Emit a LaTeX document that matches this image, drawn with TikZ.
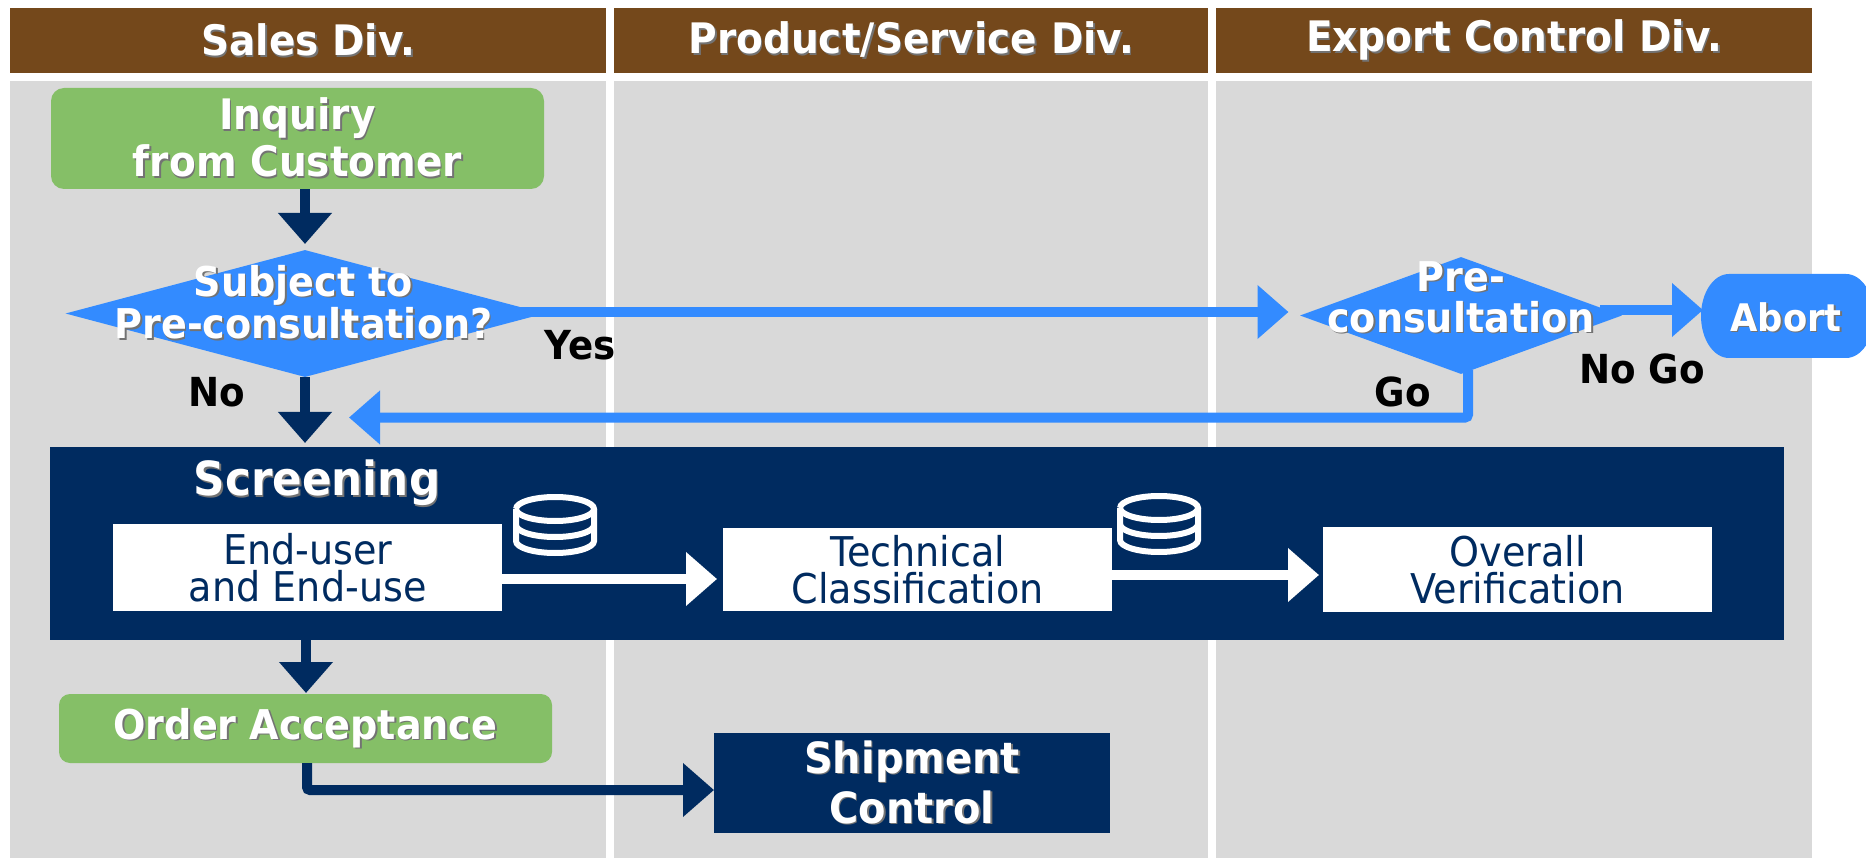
\documentclass[tikz,border=0pt]{standalone}
\usepackage{fontspec}
\setmainfont{DejaVu Sans}[FakeStretch=0.93]
\usetikzlibrary{arrows.meta,shapes.geometric}
\definecolor{brownh}{HTML}{74481B}
\definecolor{lanec}{HTML}{D9D9D9}
\definecolor{navyc}{HTML}{002B60}
\definecolor{bluec}{HTML}{338BFF}
\definecolor{greenc}{HTML}{85BF67}
\colorlet{shadowc}{black!55}
\newcommand\sdw[1]{\leavevmode\rlap{\kern1.6pt\raisebox{-1.6pt}{\color{shadowc}#1}}#1}
\newcommand\fs[1]{\fontsize{#1}{#1}\selectfont}
\tikzset{
  lane/.style={fill=lanec,anchor=north west,inner sep=0,minimum width=#1,minimum height=777pt},
  header/.style={fill=brownh,anchor=north west,inner sep=0,minimum width=#1,minimum height=65pt,text=white,font=\fs{42}\bfseries},
  greenbox/.style={fill=greenc,rounded corners=13pt,inner sep=0,text=white,align=center,font=\bfseries},
  navybox/.style={fill=navyc,inner sep=0,text=white,align=center,font=\bfseries},
  whitebox/.style={fill=white,inner sep=0,text=navyc,align=center,minimum width=389pt},
  decision/.style={diamond,fill=bluec,inner sep=0,shape aspect=3},
  ttext/.style={inner sep=0,text=white,align=center,font=\bfseries},
  btext/.style={inner sep=0,text=black,font=\fs{40}\bfseries},
  navyarrow/.style={draw=navyc,line width=10pt,-{Triangle[length=31pt,width=52pt]}},
  bluearrow/.style={draw=bluec,line width=10pt,-{Triangle[length=31pt,width=52pt]}},
  whitearrow/.style={draw=white,line width=10pt,-{Triangle[length=31pt,width=52pt]}},
  dbicon/.pic={
    \draw[white,line width=6pt] (-39,-16) arc (180:-180:39pt and 12pt);
    \draw[white,line width=6pt] (-39,-16) -- (-39,16) arc (180:360:39pt and 12pt) -- (39,-16);
    \draw[white,line width=6pt] (-39,0) arc (180:360:39pt and 12pt);
  }
}
\begin{document}
\begin{tikzpicture}[x=1pt,y=-1pt]
\useasboundingbox (0,0) rectangle (1866,858);
\clip (0,0) rectangle (1866,858);
% lanes
\node[lane=596pt] (lane1) at (10,81) {};
\node[lane=594pt] (lane2) at (614,81) {};
\node[lane=596pt] (lane3) at (1216,81) {};
\node[header=596pt] (h1) at (10,8) {\sdw{Sales Div.}};
\node[header=594pt] (h2) at (614,8) {\sdw{Product/Service Div.}};
\node[header=596pt] (h3) at (1216,8) {\sdw{Export Control Div.}};
% inquiry
\node[greenbox,minimum width=493pt,minimum height=101pt,font=\fontsize{42}{47}\selectfont\bfseries] (inq) at (297.5,138.5) {\sdw{Inquiry}\\\sdw{from Customer}};
% decisions
\node[decision,minimum width=479pt,minimum height=127pt,shape aspect=3.77] (dia1) at (305,313.5) {};
\node[decision,minimum width=322pt,minimum height=117pt,shape aspect=2.75] (dia2) at (1461,315.5) {};
\coordinate (yestip) at (1288.5,312);
\coordinate (yesstart) at (505,312);
\draw[bluearrow] (yesstart) -- (yestip);
\node[ttext,font=\fontsize{41}{41}\selectfont\bfseries] (dia1t) at (303.5,303) {\sdw{Subject to}\\\sdw{Pre-consultation?}};
% abort
\coordinate (abortl) at (1703,310);
\coordinate (nogostart) at (1600,310);
\path[fill=bluec] (1729,274) -- (1846,274) arc (90:-90:28pt and 42pt) -- (1729,358) arc (270:90:28pt and 42pt) -- cycle;
\draw[bluearrow] (nogostart) -- (abortl);
\node[inner sep=0,text=white,font=\fs{38}\bfseries] (abort) at (1786,318) {\sdw{Abort}};
\node[ttext,font=\fontsize{41}{41}\selectfont\bfseries] (dia2t) at (1461,298) {\sdw{Pre-}\\\sdw{consultation}};
% go
\coordinate (gobend) at (1468,417.5);
\coordinate (gotip) at (349,417.5);
\coordinate (gostart) at (1468,370);
\draw[bluearrow,rounded corners=3pt] (gostart) -- (gobend) -- (gotip);
% labels
\node[btext] (yes) at (580,345) {Yes};
\node[btext] (no) at (217,392) {No};
\node[btext] (go) at (1403,392) {Go};
\node[btext] (nogo) at (1642,369) {No Go};
% screening
\node[navybox,minimum width=1734pt,minimum height=193pt,anchor=north west] (scr) at (50,447) {};
\node[ttext,font=\fs{47}\bfseries] (scrt) at (317,484) {\sdw{Screening}};
\node[whitebox,minimum height=87pt,anchor=north west,font=\fontsize{41}{37}\selectfont] (b1) at (113,524) {End-user\\and End-use};
\node[whitebox,minimum height=83pt,anchor=north west,font=\fontsize{41}{37}\selectfont] (b2) at (723,528) {Technical\\Classification};
\node[whitebox,minimum height=85pt,anchor=north west,font=\fontsize{41}{37}\selectfont] (b3) at (1323,527) {Overall\\Verification};
\coordinate (w1s) at (b1.east |- 0,579);
\coordinate (w1e) at (717,579);
\coordinate (w2s) at (b2.east |- 0,575);
\coordinate (w2e) at (1319,575);
\draw[whitearrow] (w1s) -- (w1e);
\draw[whitearrow] (w2s) -- (w2e);
\pic at (555,525) {dbicon};
\pic at (1159,524) {dbicon};
% bottom
\node[greenbox,rounded corners=11pt,minimum width=493pt,minimum height=69pt,font=\fs{41}\bfseries] (ord) at (305.5,728.5) {\sdw{Order Acceptance}};
\node[navybox,minimum width=396pt,minimum height=100pt,font=\fontsize{43}{50}\selectfont\bfseries] (ship) at (912,783) {\sdw{Shipment}\\\sdw{Control}};
% connectors
\coordinate (c1) at (305,244);
\coordinate (c2) at (305,443);
\coordinate (c3) at (306,693);
\draw[navyarrow] (inq.south -| c1) -- (c1);
\draw[navyarrow] (dia1.south) -- (c2);
\draw[navyarrow] (scr.south -| c3) -- (c3);
\coordinate (obend) at (307,790);
\coordinate (otip) at (714,790);
\draw[navyarrow,rounded corners=3pt] (ord.south -| obend) -- (obend) -- (otip);
\end{tikzpicture}
\end{document}
